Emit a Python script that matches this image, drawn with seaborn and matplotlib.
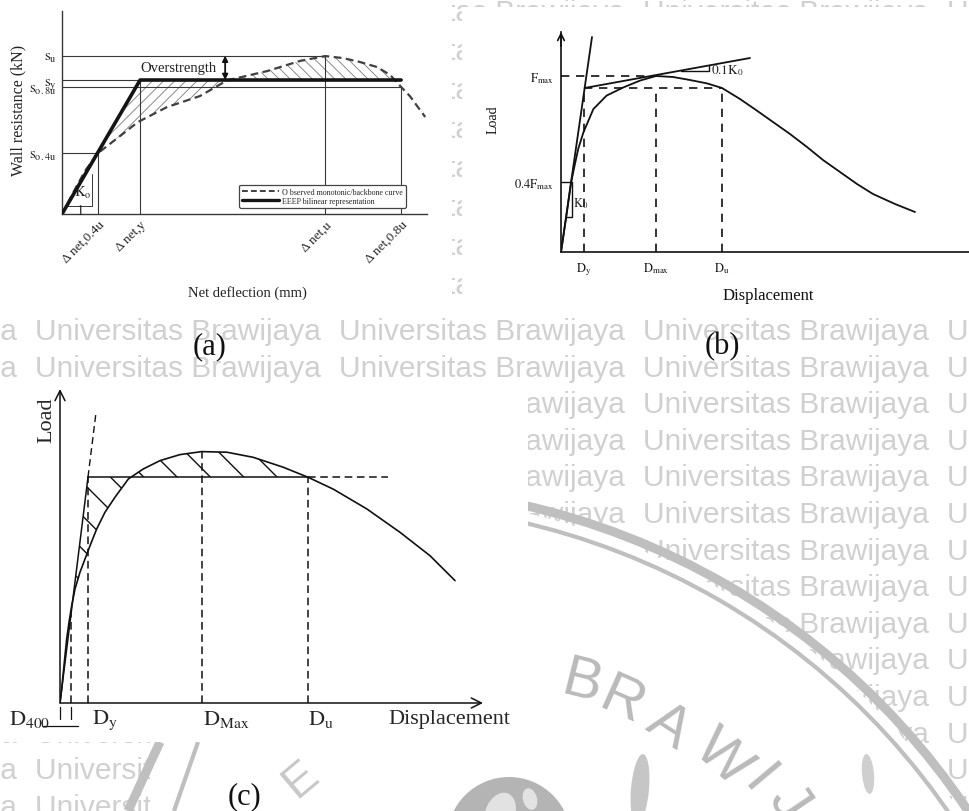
import numpy as np
import matplotlib
matplotlib.use("Agg")
import matplotlib.pyplot as plt
import seaborn as sns
from matplotlib.lines import Line2D
from matplotlib.patches import Rectangle, Circle, Arc, Ellipse

sns.set_theme(style="white")
plt.rcParams["font.family"] = ["Liberation Serif", "DejaVu Serif"]
plt.rcParams["mathtext.fontset"] = "stix"
plt.rcParams["hatch.linewidth"] = 0.7

W, H = 970, 812

# ---------------- (a) backbone curve vs EEEP bilinear ----------------
a_defl_labels = ["Δ net,0.4u", "Δ net,y", "Δ net,u", "Δ net,0.8u"]
a_defl_values = [9.86, 21.4, 72.1, 92.9]
a_res_labels = [r"$\mathrm{s_u}$", r"$\mathrm{s_y}$", r"$\mathrm{s_{o.8u}}$", r"$\mathrm{s_{o.4u}}$"]
a_res_values = [78.0, 66.0, 62.4, 30.0]
a_curve_x = [0, 2.74, 6.3, 9.86, 15.9, 20.8, 28.8, 37.8, 45.2, 56.2, 65.2, 72.1,
             77.0, 81.6, 86.3, 89.9, 92.9, 95.3, 99.5]
a_curve_y = [0, 9.4, 21.2, 30.0, 38.4, 45.3, 52.7, 58.1, 65.8, 70.4, 75.4, 77.8,
             76.8, 74.9, 72.4, 68.5, 62.6, 58.1, 47.8]
a_legend = ["O bserved monotonic/backbone curve", "EEEP bilinear representation"]

# ---------------- (b) load-displacement with 0.1K0 rule ----------------
b_disp_labels = [r"$\mathrm{D_y}$", r"$\mathrm{D_{max}}$", r"$\mathrm{D_u}$"]
b_disp_values = [5.75, 23.75, 40.25]
b_load_labels = [r"$\mathrm{F_{max}}$", r"$\mathrm{0.4F_{max}}$"]
b_load_values = [88.0, 35.2]
b_load_u = 82.0
b_curve_x = [0, 1.2, 2.5, 3.4, 4.3, 5.6, 8.1, 11.4, 15.6, 19.75, 23.75, 28.0, 32.25,
             36.5, 40.25, 44.75, 48.75, 53.0, 57.25, 61.5, 65.5, 69.75, 74.0, 78.0,
             83.5, 88.5]
b_curve_y = [0, 16.0, 34.5, 43.2, 51.5, 59.8, 71.5, 78.2, 82.3, 85.7, 88.0, 87.5, 86.0,
             84.3, 82.0, 76.5, 71.0, 65.0, 59.0, 52.5, 46.0, 40.0, 34.0, 29.0,
             24.0, 20.0]
b_k0_x = [0, 7.75]
b_k0_y = [0, 107.5]
b_k01_x = [5.9, 47.25]
b_k01_y = [82.0, 97.0]

# ---------------- (c) equal-energy yield definition ----------------
c_disp_labels = [r"$\mathrm{D_{400}}$", r"$\mathrm{D_y}$", r"$\mathrm{D_{Max}}$", r"$\mathrm{D_u}$"]
c_disp_values = [2.75, 7.0, 35.5, 62.0]
c_yield_load = 75.3
c_peak_load = 83.8
c_curve_x = [0, 0.42, 0.83, 1.25, 1.67, 2.25, 2.92, 3.75, 5.0, 6.25, 7.5, 9.17, 11.25,
             13.75, 17.1, 20.8, 25.0, 30.0, 35.4, 41.7, 48.3, 55.8, 62.1, 68.3, 76.7,
             85.0, 92.5, 98.75]
c_curve_y = [0, 4.67, 10.2, 15.8, 21.3, 26.9, 32.4, 38.0, 43.6, 48.0, 52.4, 58.0, 63.6,
             68.6, 74.7, 78.0, 80.8, 82.8, 83.8, 83.6, 81.9, 78.6, 75.2, 71.3, 64.7,
             56.9, 49.1, 40.8]

WM_TEXT = "Universitas Brawijaya"


def px_axes(fig, x0, y0, x1, y1):
    ax = fig.add_axes([x0 / W, 1 - y1 / H, (x1 - x0) / W, (y1 - y0) / H])
    ax.patch.set_alpha(0)
    return ax


def union_grid(lo, hi, *arrs):
    x = np.unique(np.concatenate([np.asarray(a, float) for a in arrs]))
    return x[(x >= lo) & (x <= hi)]


def hatch_fill(ax, x, y1, y2, hatch, color, lw, **kw):
    coll = ax.fill_between(x, y1, y2, facecolor="none", edgecolor=color,
                           linewidth=0, hatch=hatch, zorder=1, **kw)
    try:
        coll.set_hatch_linewidth(lw)
    except AttributeError:
        pass
    return coll


fig = plt.figure(figsize=(W / 100, H / 100), dpi=100)
fig.patch.set_facecolor("white")

# ---------------- background: watermark layer ----------------
bg = fig.add_axes([0, 0, 1, 1])
bg.set_xlim(0, W)
bg.set_ylim(H, 0)
bg.axis("off")

wm_color = "#d0d0d0"
wm_starts = [-269, 35, 339, 643, 947]
wm_rows_top = [13 + 39 * k for k in range(8)]
wm_rows_bottom = [332 + 36.6 * k for k in range(14)]
for yy in wm_rows_top + wm_rows_bottom:
    for xx in wm_starts:
        bg.text(xx, yy, WM_TEXT, fontsize=21.5, family="Liberation Sans",
                color=wm_color, ha="left", va="center", zorder=1)

# seal: white interior, rings, lettering, globe
seal_c = (362, 1217)
inner = Circle(seal_c, 722, facecolor="white", edgecolor="none", zorder=2)
bg.add_patch(inner)
inner.set_clip_path(Rectangle((150, 0), 820, 812, transform=bg.transData))
ring_col = "#bfbfbf"
bg.add_patch(Arc(seal_c, 2 * 729, 2 * 729, theta1=-95, theta2=-25,
                 lw=6.5, color=ring_col, zorder=3))
bg.add_patch(Arc(seal_c, 2 * 712, 2 * 712, theta1=-95, theta2=-25,
                 lw=3.0, color=ring_col, zorder=3))
bg.plot([160, 128], [743, 812], color=ring_col, lw=6.5, zorder=3, solid_capstyle="butt")
bg.plot([198, 174], [743, 812], color=ring_col, lw=3.0, zorder=3, solid_capstyle="butt")
for ch, (lx, ly), rot in zip("BRAWIJ",
                             [(582, 683), (622, 702), (668, 727), (722, 758), (758, 782), (788, 802)],
                             [-14, -24, -33, -42, -50, -56]):
    bg.text(lx, ly, ch, fontsize=42, family="Liberation Sans", color="#bababa",
            ha="center", va="center", rotation=rot, zorder=3)
bg.text(300, 780, "E", fontsize=34, family="Liberation Sans", color="#c8c8c8",
        ha="center", va="center", rotation=40, zorder=3)
bg.add_patch(Circle((509, 840), 62, facecolor="#b4b4b4", edgecolor="none", zorder=3))
bg.add_patch(Ellipse((500, 815), 30, 44, angle=20, facecolor="#e2e2e2", edgecolor="none", zorder=3))
bg.add_patch(Ellipse((530, 800), 14, 22, angle=-15, facecolor="#e2e2e2", edgecolor="none", zorder=3))
bg.add_patch(Ellipse((640, 790), 18, 70, angle=5, facecolor="#c6c6c6", edgecolor="none", zorder=3))
bg.add_patch(Ellipse((868, 775), 12, 40, angle=-5, facecolor="#cfcfcf", edgecolor="none", zorder=3))

# white sheets under the three diagrams
for (x0, y0, w, h) in [(0, 0, 452, 318), (462, 8, 508, 310), (0, 385, 528, 358)]:
    bg.add_patch(Rectangle((x0, y0), w, h, facecolor="white", edgecolor="none", zorder=4))

for txt, (tx, ty) in zip(["(a)", "(b)", "(c)"], [(210, 347), (722, 347), (245, 797)]):
    bg.text(tx, ty, txt, fontsize=22, ha="center", va="center", color="#111", zorder=6)

# ======================= panel (a) =======================
ink_a = "#383838"
ax_a = px_axes(fig, 62, 12, 427, 215)
ax_a.set_xlim(0, 100)
ax_a.set_ylim(0, 100)
for s in ["top", "right"]:
    ax_a.spines[s].set_visible(False)
for s in ["left", "bottom"]:
    ax_a.spines[s].set_color(ink_a)
    ax_a.spines[s].set_linewidth(1.0)

eeep_x = [0, a_defl_values[1], a_defl_values[3]]
eeep_y = [0, a_res_values[1], a_res_values[1]]

xg = union_grid(0, a_defl_values[3], a_curve_x, eeep_x)
up = np.interp(xg, eeep_x, eeep_y)
lo = np.interp(xg, a_curve_x, a_curve_y)
hatch_fill(ax_a, xg, lo, up, "///", "#7a7a7a", 0.6, where=up >= lo, interpolate=True)
hatch_fill(ax_a, xg, lo, up, "\\\\\\", "#7a7a7a", 0.6, where=lo > up, interpolate=True)

# guide lines: each deflection paired with its resistance level
pairs = [(a_defl_values[0], a_res_values[3]), (a_defl_values[1], a_res_values[1]),
         (a_defl_values[2], a_res_values[0]), (a_defl_values[3], a_res_values[2])]
for dx, sy in pairs:
    ax_a.plot([dx, dx], [0, sy], color=ink_a, lw=0.8, zorder=2)
    ax_a.plot([0, dx], [sy, sy], color=ink_a, lw=0.8, zorder=2)

sns.lineplot(x=a_curve_x, y=a_curve_y, ax=ax_a, sort=False, estimator=None,
             color="#404040", lw=1.6, linestyle=(0, (3.5, 2)), zorder=3)
sns.lineplot(x=eeep_x, y=eeep_y, ax=ax_a, sort=False, estimator=None,
             color="#141414", lw=2.6, zorder=4)

# stiffness triangle
ax_a.plot([1.28, 8.22, 8.22], [3.94, 3.94, 19.7], color=ink_a, lw=0.7, zorder=2)
ax_a.text(8.0, 10.8, r"$\mathrm{K_o}$", fontsize=10.5, ha="right", va="center", color="#222")
ax_a.text(5.0, 1.6, "1", fontsize=10, ha="center", va="center", color="#222")

# overstrength arrow
ax_a.annotate("", xy=(44.7, a_res_values[0]), xytext=(44.7, a_res_values[1]),
              arrowprops=dict(arrowstyle="<|-|>", lw=1.3, color="#111",
                              mutation_scale=8, shrinkA=0, shrinkB=0), zorder=5)
ax_a.text(31.8, 72.4, "Overstrength", fontsize=10.5, ha="center", va="center", color="#222")

ax_a.set_yticks(a_res_values, a_res_labels)
ax_a.set_xticks(a_defl_values, a_defl_labels)
ax_a.tick_params(axis="both", length=0, colors="#222")
ax_a.tick_params(axis="y", pad=4, labelsize=10.5)
ax_a.tick_params(axis="x", pad=3, labelsize=9.5)
for lab in ax_a.get_xticklabels():
    lab.set_rotation(45)
    lab.set_ha("right")
    lab.set_va("top")
    lab.set_rotation_mode("anchor")
ax_a.set_ylabel("Wall resistance (kN)", fontsize=11.5, color="#222")
ax_a.yaxis.set_label_coords(-0.098, 0.517)
ax_a.set_xlabel("Net deflection (mm)", fontsize=10.5, color="#222")
ax_a.xaxis.set_label_coords(0.507, -0.35)

handles = [Line2D([0], [0], color="#404040", lw=1.4, linestyle=(0, (3, 1.6))),
           Line2D([0], [0], color="#141414", lw=2.4)]
leg = ax_a.legend(handles, a_legend, loc="lower right", bbox_to_anchor=(0.953, 0.012),
                  fontsize=5.8, handlelength=4.6, handletextpad=0.4, labelspacing=0.15,
                  borderpad=0.35, fancybox=True, framealpha=1, edgecolor="#444")
leg.get_frame().set_linewidth(0.9)

# ======================= panel (b) =======================
ax_b = px_axes(fig, 561, 33, 970, 253)
ax_b.set_xlim(0, 102.25)
ax_b.set_ylim(0, 110)
for s in ["top", "right"]:
    ax_b.spines[s].set_visible(False)
for s in ["left", "bottom"]:
    ax_b.spines[s].set_color("#111")
    ax_b.spines[s].set_linewidth(1.2)
ax_b.annotate("", xy=(0, 110), xytext=(0, 103),
              arrowprops=dict(arrowstyle="->", lw=1.2, color="#111", mutation_scale=12,
                              shrinkA=0, shrinkB=0), annotation_clip=False)

dash_b = (0, (5, 4))
d_y, d_max, d_u = b_disp_values
f_max = b_load_values[0]
ax_b.plot([0, d_max], [f_max, f_max], color="#111", lw=1.2, ls=dash_b)
ax_b.plot([d_y, d_u], [b_load_u, b_load_u], color="#111", lw=1.2, ls=dash_b)
for dv in b_disp_values:
    ax_b.plot([dv, dv], [0, b_load_u], color="#111", lw=1.2, ls=dash_b)

sns.lineplot(x=b_curve_x, y=b_curve_y, ax=ax_b, sort=False, estimator=None,
             color="#111", lw=1.3)
sns.lineplot(x=b_k0_x, y=b_k0_y, ax=ax_b, sort=False, estimator=None, color="#111", lw=1.3)
sns.lineplot(x=b_k01_x, y=b_k01_y, ax=ax_b, sort=False, estimator=None, color="#111", lw=1.3)

# K0 and 0.1K0 slope markers
k0 = b_k0_y[1] / b_k0_x[1]
ax_b.plot([0, 2.75, 2.75, 17.5 / k0], [35.2, 35.2, 17.5, 17.5], color="#111", lw=1.0)
ax_b.text(3.0, 24.5, r"$\mathrm{K_0}$", fontsize=9, ha="left", va="center")
k01 = (b_k01_y[1] - b_k01_y[0]) / (b_k01_x[1] - b_k01_x[0])
y30 = b_k01_y[0] + k01 * (30 - b_k01_x[0])
y37 = b_k01_y[0] + k01 * (37 - b_k01_x[0])
ax_b.plot([30, 37, 37], [y30, y30, y37], color="#111", lw=1.0)
ax_b.text(37.6, y30 + 0.3, r"$\mathrm{0.1K_0}$", fontsize=9.5, ha="left", va="center")

ax_b.set_xticks(b_disp_values, b_disp_labels)
ax_b.set_yticks(b_load_values, b_load_labels)
ax_b.tick_params(axis="both", length=0, labelsize=9, colors="#111")
ax_b.tick_params(axis="x", pad=6)
ax_b.tick_params(axis="y", pad=5)
ax_b.set_ylabel("Load", fontsize=10, color="#111")
ax_b.yaxis.set_label_coords(-0.15, 0.605)
ax_b.set_xlabel("Displacement", fontsize=12, color="#111")
ax_b.xaxis.set_label_coords(0.506, -0.16)

# ======================= panel (c) =======================
ax_c = px_axes(fig, 60, 390, 483, 704)
ax_c.set_xlim(0, 105.75)
ax_c.set_ylim(0, 104.67)
ax_c.axis("off")
for tip in [(105.75, 0), (0, 104.67)]:
    ax_c.annotate("", xy=tip, xytext=(0, 0),
                  arrowprops=dict(arrowstyle="->", lw=1.1, color="#111", mutation_scale=18,
                                  shrinkA=0, shrinkB=0), annotation_clip=False)

d400, dy_c, dmax_c, du_c = c_disp_values
sec = c_yield_load / dy_c
xg = union_grid(0, du_c, c_curve_x, [0, dy_c, du_c])
up = np.minimum(xg * sec, c_yield_load)
lo = np.interp(xg, c_curve_x, c_curve_y)
hatch_fill(ax_c, xg, lo, up, "\\", "#111", 1.0, where=(xg >= 2.9), interpolate=True)

dash_c = (0, (5, 3))
ax_c.plot([0, dy_c], [0, c_yield_load], color="#111", lw=1.1)
ax_c.plot([dy_c, 96.5 / sec], [c_yield_load, 96.5], color="#111", lw=1.0, ls=dash_c)
ax_c.plot([dy_c, du_c], [c_yield_load, c_yield_load], color="#111", lw=1.1)
ax_c.plot([du_c, 82], [c_yield_load, c_yield_load], color="#111", lw=1.1, ls=dash_c)
for dv, top in [(d400, float(np.interp(d400, c_curve_x, c_curve_y))), (dy_c, c_yield_load),
                (dmax_c, c_peak_load), (du_c, c_yield_load)]:
    ax_c.plot([dv, dv], [0, top], color="#111", lw=1.1, ls=dash_c)

sns.lineplot(x=c_curve_x, y=c_curve_y, ax=ax_c, sort=False, estimator=None,
             color="#111", lw=1.2)

# D400 dimension marks
for dv in [0, d400]:
    ax_c.plot([dv, dv], [-1.5, -5.5], color="#111", lw=0.9, clip_on=False)
ax_c.plot([-4.2, 4.5], [-7.7, -7.7], color="#111", lw=0.9, clip_on=False)

lab_y = -5.3
ax_c.text(-2.4, lab_y, c_disp_labels[0], fontsize=16, ha="right", va="center")
for lab, dv, off in zip(c_disp_labels[1:], c_disp_values[1:], [1.0, 0.2, 0.0]):
    ax_c.text(dv + off, lab_y, lab, fontsize=16, ha="left", va="center")
ax_c.text(82, lab_y, "Displacement", fontsize=16, ha="left", va="center")
ax_c.text(-3.25, 94.7, "Load", fontsize=16, ha="center", va="center", rotation=90)

fig.savefig("out.png", dpi=100, facecolor="white")
